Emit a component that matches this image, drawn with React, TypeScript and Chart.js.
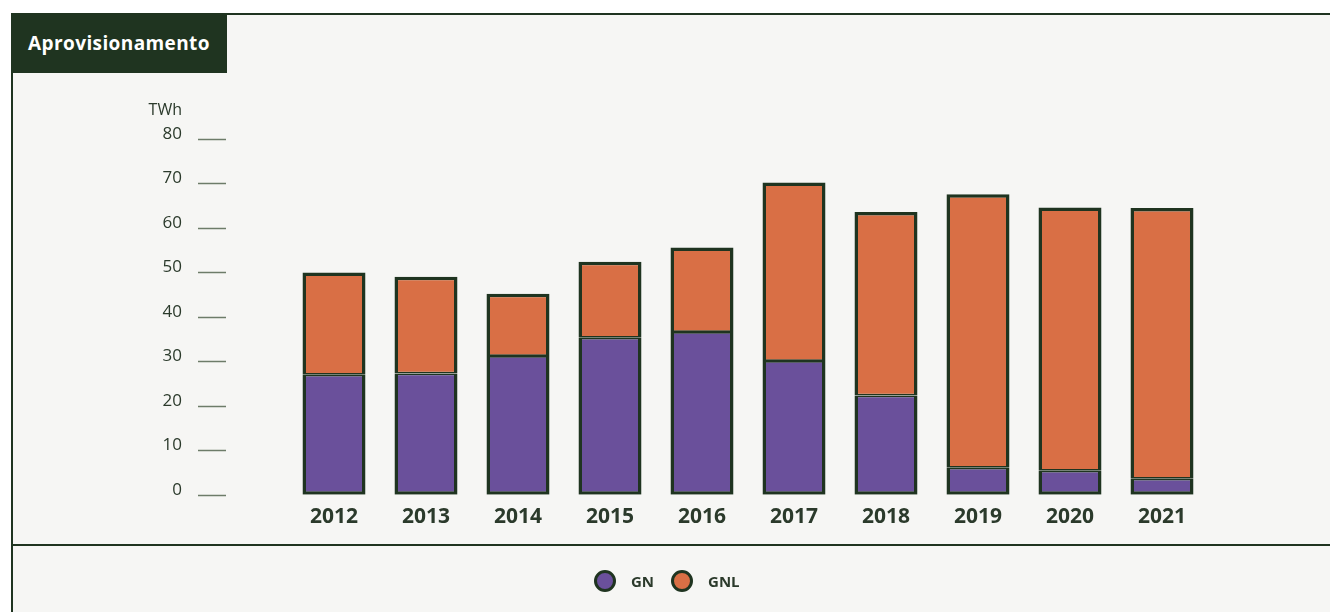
import React, { useEffect, useRef } from "react";
import { Chart, registerables } from "chart.js";

Chart.register(...registerables);

const years = ["2012", "2013", "2014", "2015", "2016", "2017", "2018", "2019", "2020", "2021"];
const gnValues = [27.0, 27.3, 31.2, 35.3, 36.6, 30.1, 22.3, 6.1, 5.4, 3.6];
const gnlValues = [23.0, 21.7, 14.0, 17.1, 19.0, 40.1, 41.3, 61.5, 59.2, 60.9];
const yTicks = [0, 10, 20, 30, 40, 50, 60, 70, 80];
const seriesNames = ["GN", "GNL"];
const seriesColors = ["#6a509b", "#d96f45"];
const unitLabel = "TWh";
const title = "Aprovisionamento";

const DARK = "#1f3420";
const TEXT = "#2b3a2b";
const FONT = "'Open Sans', sans-serif";

const yTickPlugin = {
  id: "yTickPlugin",
  afterDraw(chart: any) {
    const ctx = chart.ctx;
    const y = chart.scales.y;
    ctx.save();
    ctx.strokeStyle = "#6d7c69";
    ctx.lineWidth = 1.5;
    ctx.fillStyle = TEXT;
    ctx.font = `400 17px ${FONT}`;
    ctx.textAlign = "right";
    ctx.textBaseline = "middle";
    yTicks.forEach((v) => {
      const py = Math.round(y.getPixelForValue(v)) + 0.5;
      ctx.beginPath();
      ctx.moveTo(198, py);
      ctx.lineTo(226, py);
      ctx.stroke();
      ctx.fillText(String(v), 182, py - 5);
    });
    ctx.font = `400 16px ${FONT}`;
    ctx.fillText(unitLabel, 182, y.getPixelForValue(80) - 29);
    ctx.restore();
  },
};

export default function App() {
  const ref = useRef<HTMLCanvasElement>(null);
  useEffect(() => {
    if (!ref.current) return;
    const chart = new Chart(ref.current, {
      type: "bar",
      data: {
        labels: years,
        datasets: [
          {
            label: seriesNames[0],
            data: gnValues,
            backgroundColor: seriesColors[0],
            borderColor: DARK,
            borderWidth: { left: 3.5, right: 3.5, bottom: 3.5, top: 1.75 },
            borderSkipped: false,
          },
          {
            label: seriesNames[1],
            data: gnlValues,
            backgroundColor: seriesColors[1],
            borderColor: DARK,
            borderWidth: { left: 3.5, right: 3.5, top: 3.5, bottom: 1.75 },
            borderSkipped: false,
          },
        ],
      },
      options: {
        responsive: false,
        animation: false,
        maintainAspectRatio: false,
        layout: { padding: { left: 288, right: 122, top: 139, bottom: 80 } },
        datasets: { bar: { categoryPercentage: 1, barPercentage: 0.685 } },
        plugins: { legend: { display: false }, tooltip: { enabled: false } },
        scales: {
          x: {
            stacked: true,
            grid: { display: false },
            border: { display: false },
            ticks: { color: TEXT, font: { family: FONT, size: 21, weight: "bold" }, padding: 2 },
          },
          y: {
            stacked: true,
            display: false,
            min: 0,
            max: 80,
          },
        },
      },
      plugins: [yTickPlugin],
    });
    return () => chart.destroy();
  }, []);

  return (
    <div style={{ position: "fixed", left: 0, top: 0, width: 1330, height: 612, background: "#ffffff", overflow: "hidden" }}>
      <div
        style={{
          position: "absolute",
          left: 11,
          top: 13,
          width: 1340,
          height: 620,
          background: "#f6f6f4",
          borderTop: `2px solid ${DARK}`,
          borderLeft: `2px solid ${DARK}`,
        }}
      />
      <div style={{ position: "absolute", left: 11, top: 544, width: 1330, height: 2, background: DARK }} />
      <div
        style={{
          position: "absolute",
          left: 11,
          top: 13,
          width: 216,
          height: 60,
          background: DARK,
          color: "#ffffff",
          fontFamily: FONT,
          fontWeight: 700,
          fontSize: 19,
          letterSpacing: 0.4,
          display: "flex",
          alignItems: "center",
          justifyContent: "center",
        }}
      >
        {title}
      </div>
      <canvas ref={ref} width={1330} height={612} style={{ position: "absolute", left: 0, top: 0 }} />
      <div
        style={{
          position: "absolute",
          left: 594,
          top: 570,
          display: "flex",
          alignItems: "center",
          fontFamily: FONT,
          fontWeight: 700,
          fontSize: 15,
          color: TEXT,
        }}
      >
        {seriesNames.map((n, i) => (
          <div key={n} style={{ display: "flex", alignItems: "center", marginRight: 17 }}>
            <span
              style={{
                display: "inline-block",
                width: 16,
                height: 16,
                borderRadius: "50%",
                background: seriesColors[i],
                border: `3px solid ${DARK}`,
                marginRight: 15,
              }}
            />
            <span>{n}</span>
          </div>
        ))}
      </div>
    </div>
  );
}
